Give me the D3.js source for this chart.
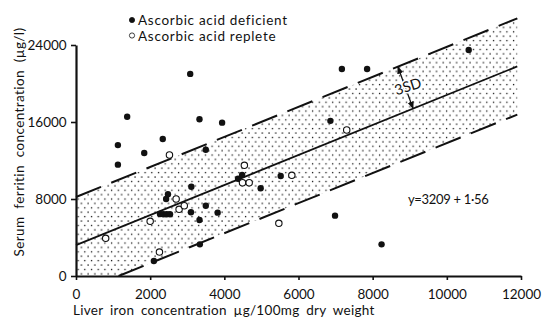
<!DOCTYPE html>
<html>
<head>
<meta charset="utf-8">
<script src="https://cdn.jsdelivr.net/npm/d3@7"></script>
<style>
  body { margin: 0; background: #fff; }
  text { font-family: Lato, "DejaVu Sans", sans-serif; fill: #111; }
</style>
</head>
<body>
<script>
// liver iron (ug/100mg dry wt) vs serum ferritin (ug/l)
var deficient = [
  [1130, 13600], [1130, 11570], [1380, 16550], [1840, 12780], [2100, 1560],
  [2265, 6440], [2355, 6420], [2445, 6420], [2535, 6420], [2340, 14230],
  [2430, 8000], [2480, 8490], [3080, 21000], [3100, 6620], [3110, 9280],
  [3330, 16280], [3330, 5820], [3340, 3290], [3500, 13120], [3500, 7300],
  [3820, 6580], [3940, 15930], [4370, 10100], [4480, 10500], [4980, 9110],
  [5520, 10390], [6860, 16120], [6985, 6270], [7170, 21510], [7850, 21510],
  [8240, 3290], [10590, 23480]
];
var replete = [
  [800, 3910], [2000, 5680], [2250, 2490], [2520, 12570], [2700, 8000],
  [2780, 6930], [2920, 7300], [4540, 11500], [4490, 9690], [4670, 9690],
  [5470, 5470], [5820, 10460], [7300, 15170]
];
var xTicks = [0, 2000, 4000, 6000, 8000, 10000, 12000];
var yTicks = [0, 8000, 16000, 24000];
var intercept = 3209, slope = 1.56, sd3 = 5000;
var bandEnd = 11900;

var width = 542, height = 319;
var x = d3.scaleLinear().domain([0, 12000]).range([76, 521]);
var y = d3.scaleLinear().domain([0, 24000]).range([276, 45]);
var fit = function(v) { return intercept + slope * v; };

var svg = d3.select('body').append('svg')
  .attr('width', width).attr('height', height);

// stipple for the 3SD band
var pat = svg.append('defs').append('pattern')
  .attr('id', 'stip').attr('patternUnits', 'userSpaceOnUse')
  .attr('width', 6.7).attr('height', 8.8);
pat.append('rect').attr('x', 0.4).attr('y', 0.4).attr('width', 1.3).attr('height', 1.3).attr('fill', '#111');
pat.append('rect').attr('x', 3.75).attr('y', 4.8).attr('width', 1.3).attr('height', 1.3).attr('fill', '#111');

// shaded band (clipped at y = 0)
var x0 = (sd3 - intercept) / slope;
var band = [
  [0, 0], [0, fit(0) + sd3], [bandEnd, fit(bandEnd) + sd3],
  [bandEnd, fit(bandEnd) - sd3], [x0, 0]
];
svg.append('path')
  .attr('d', d3.line().x(function(d) { return x(d[0]); }).y(function(d) { return y(d[1]); })(band) + 'Z')
  .attr('fill', 'url(#stip)');

// regression line and +/- 3SD lines
svg.append('line')
  .attr('x1', x(0)).attr('y1', y(fit(0)))
  .attr('x2', x(bandEnd)).attr('y2', y(fit(bandEnd)))
  .attr('stroke', '#111').attr('stroke-width', 1.8);
svg.append('line')
  .attr('x1', x(0)).attr('y1', y(fit(0) + sd3))
  .attr('x2', x(bandEnd)).attr('y2', y(fit(bandEnd) + sd3))
  .attr('stroke', '#111').attr('stroke-width', 2).attr('stroke-dasharray', '27,11');
svg.append('line')
  .attr('x1', x(x0)).attr('y1', y(0))
  .attr('x2', x(bandEnd)).attr('y2', y(fit(bandEnd) - sd3))
  .attr('stroke', '#111').attr('stroke-width', 2).attr('stroke-dasharray', '27,11');

// axes
var xAxis = svg.append('g').attr('transform', 'translate(0,' + y(0) + ')')
  .call(d3.axisBottom(x).tickValues(xTicks).tickSize(4).tickSizeOuter(0).tickFormat(d3.format('d')));
var yAxis = svg.append('g').attr('transform', 'translate(' + x(0) + ',0)')
  .call(d3.axisLeft(y).tickValues(yTicks).tickSize(5).tickSizeOuter(0).tickFormat(d3.format('d')));
[xAxis, yAxis].forEach(function(g) {
  g.select('.domain').attr('stroke', '#111').attr('stroke-width', 2.2);
  g.selectAll('.tick line').attr('stroke', '#111').attr('stroke-width', 1.6);
  g.selectAll('.tick text').attr('font-size', 13.5).attr('font-family', 'Lato, sans-serif').attr('fill', '#111');
});
xAxis.selectAll('.tick text').attr('dy', '1.2em');
yAxis.selectAll('.tick text').attr('dx', '-0.1em');

// points
svg.selectAll('circle.def').data(deficient).enter()
  .append('circle').attr('class', 'def')
  .attr('cx', function(d) { return x(d[0]); })
  .attr('cy', function(d) { return y(d[1]); })
  .attr('r', 3.2).attr('fill', '#111');
svg.selectAll('circle.rep').data(replete).enter()
  .append('circle').attr('class', 'rep')
  .attr('cx', function(d) { return x(d[0]); })
  .attr('cy', function(d) { return y(d[1]); })
  .attr('r', 3.2).attr('fill', '#fff').attr('stroke', '#111').attr('stroke-width', 1.1);

// 3SD arrow
var ax1 = 8680, ax2 = 9090;
svg.append('defs').append('marker')
  .attr('id', 'ah').attr('viewBox', '0 0 10 10').attr('refX', 9).attr('refY', 5)
  .attr('markerWidth', 6).attr('markerHeight', 6).attr('orient', 'auto-start-reverse')
  .append('path').attr('d', 'M0,1L10,5L0,9Z').attr('fill', '#111');
svg.append('line')
  .attr('x1', x(ax1)).attr('y1', y(fit(ax1) + sd3))
  .attr('x2', x(ax2)).attr('y2', y(fit(ax2)))
  .attr('stroke', '#111').attr('stroke-width', 1.3)
  .attr('marker-start', 'url(#ah)').attr('marker-end', 'url(#ah)');
svg.append('text')
  .attr('transform', 'translate(' + x(8950) + ',' + y(19700) + ') rotate(-18)')
  .attr('text-anchor', 'middle').attr('dy', '0.35em')
  .attr('font-size', 14.5)
  .attr('stroke', '#fff').attr('stroke-width', 3).attr('paint-order', 'stroke')
  .text('3SD');

// equation
svg.append('text')
  .attr('x', x(8950)).attr('y', y(7500))
  .attr('font-size', 13).attr('letter-spacing', -0.3)
  .text('y=3209 + 1·56');

// legend
var legend = [['Ascorbic acid deficient', true], ['Ascorbic acid replete', false]];
var lg = svg.append('g').selectAll('g').data(legend).enter().append('g')
  .attr('transform', function(d, i) { return 'translate(132,' + (20 + i * 15.5) + ')'; });
lg.append('circle').attr('r', 2.6)
  .attr('fill', function(d) { return d[1] ? '#111' : '#fff'; })
  .attr('stroke', '#111').attr('stroke-width', 0.8);
lg.append('text').attr('x', 6).attr('dy', '0.38em').attr('font-size', 13.5)
  .attr('letter-spacing', 0.7)
  .text(function(d) { return d[0]; });

// axis titles
svg.append('text')
  .attr('x', 73).attr('y', 315)
  .attr('font-size', 13.5).attr('word-spacing', 3).attr('letter-spacing', 0.3)
  .text('Liver iron concentration µg/100mg dry weight');
svg.append('text')
  .attr('transform', 'translate(24,142) rotate(-90)')
  .attr('text-anchor', 'middle')
  .attr('font-size', 13.5).attr('word-spacing', 4).attr('letter-spacing', 0.4)
  .text('Serum ferritin concentration (µg/l)');
</script>
</body>
</html>
